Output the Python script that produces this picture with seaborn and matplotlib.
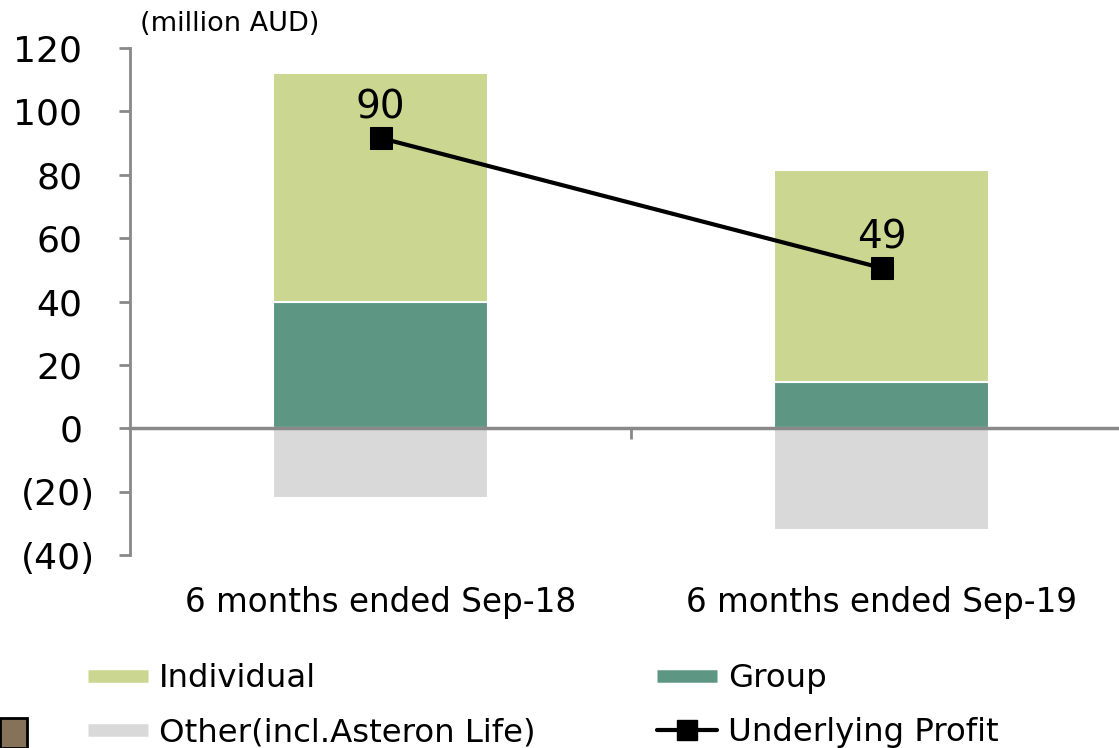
import matplotlib
matplotlib.use("Agg")
import matplotlib.pyplot as plt
from matplotlib.lines import Line2D
from matplotlib.patches import Rectangle
from matplotlib.transforms import ScaledTranslation
import seaborn as sns

periods = ["6 months ended Sep-18", "6 months ended Sep-19"]
group = [40.0, 14.5]
individual = [72.0, 67.0]
other = [-22.0, -32.0]
underlying_profit = [90, 49]
y_ticks = [-40, -20, 0, 20, 40, 60, 80, 100, 120]

c_ind = "#CBD690"
c_grp = "#5D9683"
c_oth = "#D9D9D9"
c_axis = "#898989"

sns.set_theme(style="white")
plt.rcParams["font.family"] = ["DejaVu Sans"]
plt.rcParams["text.color"] = "black"
plt.rcParams["ytick.color"] = "black"

fig = plt.figure(figsize=(11.19, 7.48), dpi=100)
ax = fig.add_axes([130 / 1119, 0.258, 1002 / 1119, 0.6778])

bar_kw = dict(width=0.43, edgecolor="white", linewidth=1.5, saturation=1, ax=ax, zorder=2)
sns.barplot(x=periods, y=group, color=c_grp, **bar_kw)
sns.barplot(x=periods, y=individual, bottom=group, color=c_ind, **bar_kw)
sns.barplot(x=periods, y=other, color=c_oth, **bar_kw)

ax.set_xlim(-0.5, 1.5)
ax.set_ylim(-40, 120)
ax.set_yticks(y_ticks)
ax.set_yticklabels([f"({abs(t)})" if t < 0 else str(t) for t in y_ticks], fontsize=26)
ax.tick_params(axis="y", direction="out", length=8, width=2, color=c_axis,
               labelcolor="black", left=True, pad=17)
# positive labels leave room for the closing parenthesis, as in accounting format
shift = ScaledTranslation(-13 / 100, 0, fig.dpi_scale_trans)
for t, lab in zip(y_ticks, ax.get_yticklabels()):
    if t >= 0:
        lab.set_transform(lab.get_transform() + shift)

# zero line acting as category axis
for s in ["top", "right"]:
    ax.spines[s].set_visible(False)
ax.spines["left"].set_color(c_axis)
ax.spines["left"].set_linewidth(2)
ax.spines["bottom"].set_position(("data", 0))
ax.spines["bottom"].set_color(c_axis)
ax.spines["bottom"].set_linewidth(2.5)
ax.spines["bottom"].set_zorder(3)
ax.set_xticks([0.5])
ax.set_xticklabels([""])
ax.tick_params(axis="x", direction="out", length=8, width=2, color=c_axis, bottom=True)
for i, p in enumerate(periods):
    ax.text(i, -55, p, ha="center", va="center", fontsize=23.5, clip_on=False)
ax.set_xlabel("")
ax.set_ylabel("")

# profit line sits on a hidden secondary axis, slightly offset like the original
ax2 = ax.twinx()
sns.lineplot(x=[0, 1], y=underlying_profit, color="black", linewidth=3,
             marker="s", markersize=16, markeredgecolor="black", ax=ax2, zorder=4)
for i, v in enumerate(underlying_profit):
    ax2.text(i, v + 9.5, str(v), ha="center", va="center", fontsize=28, zorder=5)
ax2.set_ylim(-41.6, 118.4)
ax2.set_xlim(-0.5, 1.5)
ax2.axis("off")

fig.text(140 / 1119, 1 - 24 / 748, "(million AUD)", fontsize=19.5, va="center", ha="left")

handles = [
    Line2D([], [], color=c_ind, lw=9, solid_capstyle="butt"),
    Line2D([], [], color=c_oth, lw=9, solid_capstyle="butt"),
    Line2D([], [], color=c_grp, lw=9, solid_capstyle="butt"),
    Line2D([], [], color="black", lw=3, marker="s", markersize=14),
]
labels = ["Individual", "Other(incl.Asteron Life)", "Group", "Underlying Profit"]
fig.legend(handles, labels, ncol=2, loc="upper left",
           bbox_to_anchor=(62 / 1119, 1 - 637 / 748), frameon=False,
           fontsize=23.3, handlelength=1.85, handletextpad=0.35,
           columnspacing=3.75, labelspacing=0.72, borderpad=0.3)

fig.patches.append(Rectangle((0, 0), 27 / 1119, 30 / 748, transform=fig.transFigure,
                             facecolor="#857258", edgecolor="black", linewidth=2))

fig.savefig("out.png", dpi=100)
